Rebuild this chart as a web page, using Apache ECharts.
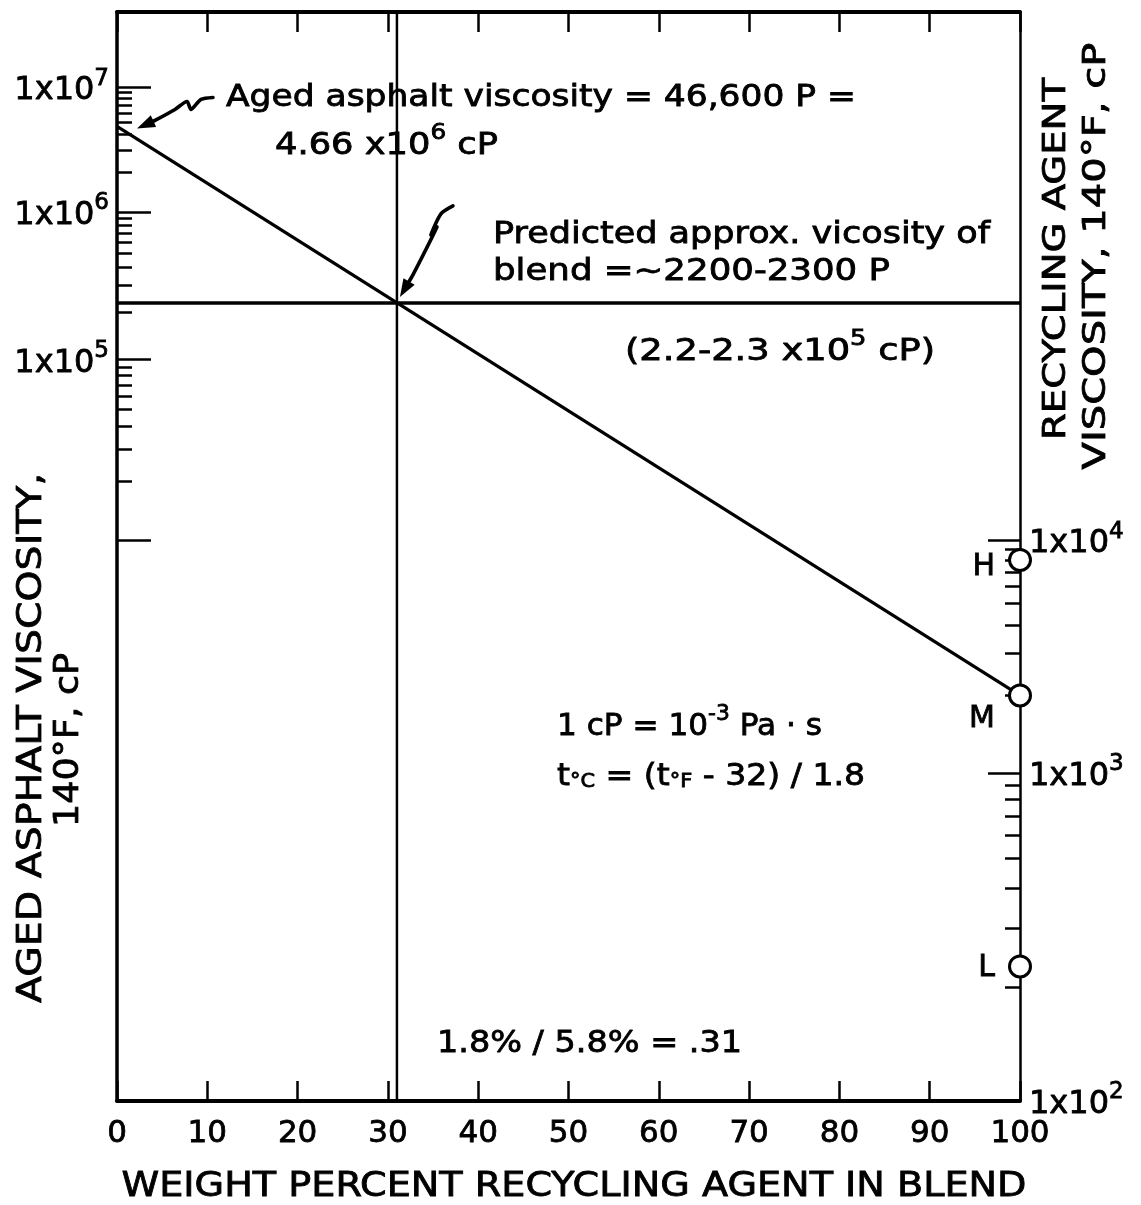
<!DOCTYPE html>
<html>
<head>
<meta charset="utf-8">
<title>Aged asphalt / recycling agent blending chart</title>
<script src="https://cdn.jsdelivr.net/npm/echarts@6/dist/echarts.min.js"></script>
<style>
  html, body { margin: 0; padding: 0; background: #fff; }
  #chart { width: 1141px; height: 1205px; }
</style>
</head>
<body>
<div id="chart"></div>
<script>
// ---------- data ----------
const percentTicks = [0, 10, 20, 30, 40, 50, 60, 70, 80, 90, 100];

const leftMajorCP = [1e4, 1e5, 1e6, 1e7];
const leftLabelCP = [1e5, 1e6, 1e7];
const leftMinorDecadesCP = [1e4, 1e5, 1e6];
const rightMajorCP = [1e3, 1e4];
const rightLabelCP = [1e2, 1e3, 1e4];
const rightMinorDecadesCP = [1e2, 1e3];
const minorSteps = [2, 3, 4, 5, 6, 7, 8, 9];
const axisRangeCP = [1e2, 4.8e7];

const agedAsphaltCP = 4.66e6;          // 46,600 P, at 0 % recycling agent
const agentNames = ['H', 'M', 'L'];    // recycling agents, at 100 %
const agentCP = [8000, 2000, 230];
const blendPercent = 31;               // 1.8 % / 5.8 %
const blendCP = 2.3e5;                 // ~2200-2300 P

// ---------- scale ----------
// Viscosity axes are double-logarithmic: position ∝ log10(log10(cP)).
const vis = cp => Math.log10(Math.log10(cp));
const yMin = vis(axisRangeCP[0]);
const yMax = vis(axisRangeCP[1]);
const expand = (decades) => decades.flatMap(d => minorSteps.map(k => vis(k * d)));

const FONT = 'DejaVu Sans';
const INK = '#000';
// lettering is a little heavier than the regular face
const HEAVY = { textBorderColor: INK, textBorderWidth: 0.8 };

const expRich = {
  m: Object.assign({ fontFamily: FONT, fontSize: 32, color: INK, lineHeight: 40, verticalAlign: 'bottom' }, HEAVY),
  e: Object.assign({ fontFamily: FONT, fontSize: 23, color: INK, lineHeight: 10, verticalAlign: 'top' }, HEAVY)
};
const powerLabel = (value) => {
  const exponent = Math.round(Math.pow(10, value));
  return '{m|1x10}{e|' + exponent + '}';
};

// ---------- text helpers ----------
const measureCtx = document.createElement('canvas').getContext('2d');
function textWidth(str, size) {
  measureCtx.font = size + 'px "' + FONT + '"';
  return measureCtx.measureText(str).width;
}
const richStyles = {
  n: { fontFamily: FONT, fontSize: 30, fill: INK, stroke: INK, lineWidth: 0.8, lineHeight: 38, verticalAlign: 'bottom' },
  s: { fontFamily: FONT, fontSize: 21, fill: INK, stroke: INK, lineWidth: 0.8, lineHeight: 10, verticalAlign: 'top' },
  b: { fontFamily: FONT, fontSize: 19, fill: INK, stroke: INK, lineWidth: 0.8, lineHeight: 12, verticalAlign: 'bottom' }
};
// parts: [text, styleKey]; the run is stretched horizontally to the given width
function textRun(parts, x, y, width, opts) {
  opts = opts || {};
  let natural = 0;
  parts.forEach(([t, k]) => { natural += textWidth(t, (opts.size && k === 'n') ? opts.size : richStyles[k].fontSize); });
  const rich = JSON.parse(JSON.stringify(richStyles));
  if (opts.size) rich.n.fontSize = opts.size;
  const align = opts.align || 'left';
  return {
    type: 'text',
    x: x, y: y,
    rotation: opts.rotation || 0,
    scaleX: width / natural,
    silent: true,
    style: {
      text: parts.map(([t, k]) => '{' + k + '|' + t + '}').join(''),
      rich: rich,
      fontFamily: FONT,
      fontSize: opts.size || 30,
      fill: INK, stroke: INK, lineWidth: 0.8,
      align: align, textAlign: align,
      verticalAlign: 'middle', textVerticalAlign: 'middle'
    }
  };
}

// ---------- callout arrows (offsets in px from the point they mark) ----------
const arrowStrokes = [
  [[96, -29], [84, -27], [74, -17], [70, -25], [58, -17], [38, -6]],
  [[56, -97], [44, -89], [34, -68], [40, -76], [16, -28]]
];
const arrowTips = [[20, 2], [3, -6]];

const chart = echarts.init(document.getElementById('chart'), null, { renderer: 'canvas' });

const yBase = {
  type: 'value', min: yMin, max: yMax,
  splitLine: { show: false },
  axisLabel: { show: false },
  axisLine: { show: false }
};

const option = {
  animation: false,
  backgroundColor: '#fff',
  grid: { left: 117, right: 121, top: 12, bottom: 104, containLabel: false, outerBoundsMode: 'none' },
  xAxis: [
    {
      type: 'value', position: 'bottom', min: 0, max: 100,
      splitLine: { show: false },
      axisLine: { show: true, lineStyle: { color: INK, width: 4 } },
      axisTick: { show: true, inside: true, length: 20, lineStyle: { color: INK, width: 2.5 }, customValues: percentTicks },
      axisLabel: Object.assign({
        show: true, customValues: percentTicks, margin: 17,
        showMinLabel: true, showMaxLabel: true,
        fontFamily: FONT, fontSize: 31, color: INK
      }, HEAVY)
    },
    {
      type: 'value', position: 'top', min: 0, max: 100,
      splitLine: { show: false },
      axisLine: { show: true, lineStyle: { color: INK, width: 4 } },
      axisTick: { show: true, inside: true, length: 20, lineStyle: { color: INK, width: 2.5 }, customValues: percentTicks },
      axisLabel: { show: false }
    }
  ],
  yAxis: [
    Object.assign({}, yBase, {
      position: 'left',
      axisLine: { show: true, lineStyle: { color: INK, width: 3.5 } },
      axisTick: { show: true, inside: true, length: 34, lineStyle: { color: INK, width: 2.5 }, customValues: leftMajorCP.map(vis) },
      axisLabel: { show: true, customValues: leftLabelCP.map(vis), formatter: powerLabel, rich: expRich, margin: 8 }
    }),
    Object.assign({}, yBase, {
      position: 'left',
      axisTick: { show: true, inside: true, length: 15, lineStyle: { color: INK, width: 2.5 }, customValues: expand(leftMinorDecadesCP) }
    }),
    Object.assign({}, yBase, {
      position: 'right',
      axisLine: { show: true, lineStyle: { color: INK, width: 2.5 } },
      axisTick: { show: true, inside: true, length: 32, lineStyle: { color: INK, width: 2.5 }, customValues: rightMajorCP.map(vis) },
      axisLabel: { show: true, customValues: rightLabelCP.map(vis), formatter: powerLabel, rich: expRich, margin: 9 }
    }),
    Object.assign({}, yBase, {
      position: 'right',
      axisTick: { show: true, inside: true, length: 15, lineStyle: { color: INK, width: 2.5 }, customValues: expand(rightMinorDecadesCP) }
    })
  ],
  series: [
    {
      // blending line from the aged asphalt to recycling agent M
      type: 'line', xAxisIndex: 0, yAxisIndex: 0, silent: true,
      symbol: 'none',
      lineStyle: { color: INK, width: 3.2 },
      data: [[0, vis(agedAsphaltCP)], [100, vis(agentCP[agentNames.indexOf('M')])]],
      z: 3
    },
    {
      // target blend viscosity
      type: 'line', xAxisIndex: 0, yAxisIndex: 0, silent: true,
      symbol: 'none',
      lineStyle: { color: INK, width: 3.5 },
      data: [[0, vis(blendCP)], [100, vis(blendCP)]],
      z: 3
    },
    {
      // required percentage of recycling agent
      type: 'line', xAxisIndex: 0, yAxisIndex: 0, silent: true,
      symbol: 'none',
      lineStyle: { color: INK, width: 2.5 },
      data: [[blendPercent, yMin], [blendPercent, yMax]],
      z: 3
    },
    {
      type: 'scatter', xAxisIndex: 0, yAxisIndex: 0, silent: true, clip: false,
      symbol: 'circle', symbolSize: 21,
      itemStyle: { color: '#fff', borderColor: INK, borderWidth: 3, opacity: 1 },
      label: Object.assign({
        show: true, position: 'left', distance: 13, formatter: '{b}',
        fontFamily: FONT, fontSize: 30, color: INK
      }, HEAVY),
      data: agentNames.map((name, i) => ({
        name: name,
        value: [100, vis(agentCP[i])],
        label: { offset: name === 'M' ? [0, 24] : (name === 'H' ? [0, 7] : [0, 2]) }
      })),
      z: 6
    },
    {
      type: 'custom', xAxisIndex: 0, yAxisIndex: 0, silent: true, clip: false,
      data: [[0, vis(agedAsphaltCP)], [blendPercent, vis(blendCP)]],
      renderItem: function (params, api) {
        const p = api.coord([api.value(0), api.value(1)]);
        const i = params.dataIndex;
        const pts = arrowStrokes[i].map(o => [p[0] + o[0], p[1] + o[1]]);
        const tip = [p[0] + arrowTips[i][0], p[1] + arrowTips[i][1]];
        const last = pts[pts.length - 1];
        const dx = tip[0] - last[0], dy = tip[1] - last[1];
        const len = Math.hypot(dx, dy);
        const ux = dx / len, uy = dy / len;
        const hl = 18, hw = 6.5;
        const bx = tip[0] - ux * hl, by = tip[1] - uy * hl;
        return {
          type: 'group',
          children: [
            { type: 'polyline', shape: { points: pts.concat([[bx + ux * 2, by + uy * 2]]), smooth: 0.25 },
              style: { stroke: INK, lineWidth: 3.6, fill: null, lineJoin: 'round', lineCap: 'round' } },
            { type: 'polygon', shape: { points: [tip, [bx - uy * hw, by + ux * hw], [bx + uy * hw, by - ux * hw]] },
              style: { fill: INK } }
          ]
        };
      },
      z: 7
    }
  ],
  graphic: [
    textRun([['WEIGHT PERCENT RECYCLING AGENT IN BLEND', 'n']], 574, 1185, 905, { align: 'center', size: 33 }),
    textRun([['AGED ASPHALT VISCOSITY,', 'n']], 30, 738, 530, { align: 'center', size: 34, rotation: Math.PI / 2 }),
    textRun([['140°F, cP', 'n']], 67, 740, 174, { align: 'center', size: 34, rotation: Math.PI / 2 }),
    textRun([['RECYCLING AGENT', 'n']], 1054, 259, 362, { align: 'center', size: 32, rotation: Math.PI / 2 }),
    textRun([['VISCOSITY, 140°F, cP', 'n']], 1094, 256, 427, { align: 'center', size: 32, rotation: Math.PI / 2 }),

    textRun([['Aged asphalt viscosity = 46,600 P =', 'n']], 226, 94, 630),
    textRun([['4.66 x10', 'n'], ['6', 's'], [' cP', 'n']], 275, 142, 223),
    textRun([['Predicted approx. vicosity of', 'n']], 493, 231, 497),
    textRun([['blend =~2200-2300 P', 'n']], 493, 268, 397),
    textRun([['(2.2-2.3 x10', 'n'], ['5', 's'], [' cP)', 'n']], 625, 348, 310),
    textRun([['1 cP = 10', 'n'], ['-3', 's'], [' Pa · s', 'n']], 557, 723, 265),
    textRun([['t', 'n'], ['°C', 'b'], [' = (t', 'n'], ['°F', 'b'], [' - 32) / 1.8', 'n']], 557, 773, 308),
    textRun([['1.8% / 5.8% = .31', 'n']], 437, 1040, 305)
  ]
};

chart.setOption(option);
</script>
</body>
</html>
